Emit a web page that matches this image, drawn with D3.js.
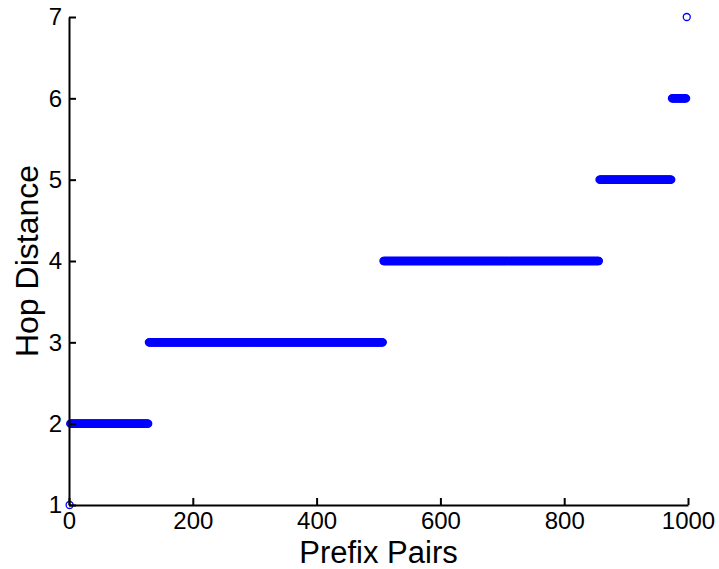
<!DOCTYPE html>
<html>
<head>
<meta charset="utf-8">
<script src="https://cdn.jsdelivr.net/npm/d3@7"></script>
<style>
  html, body { margin: 0; padding: 0; background: #fff; }
  svg { display: block; font-family: "Liberation Sans", Arial, sans-serif; }
</style>
</head>
<body>
<svg id="chart" width="719" height="569"></svg>
<script>
// Hop distance for each prefix pair, sorted: number of pairs at each hop count
const hopLevels = [1, 2, 3, 4, 5, 6, 7];
const pairCounts = [1, 127, 379, 349, 117, 24, 1];

const xTicks = [0, 200, 400, 600, 800, 1000];
const yTicks = [1, 2, 3, 4, 5, 6, 7];

// Expand the counts into one point per prefix pair (index starts at 1)
const points = [];
let idx = 1;
hopLevels.forEach((h, i) => {
  for (let k = 0; k < pairCounts[i]; k++) points.push({ x: idx++, y: h });
});

const svg = d3.select("#chart");
const margin = { top: 17, right: 31, bottom: 64, left: 69 };
const W = 719, H = 569;

const x = d3.scaleLinear().domain([0, 1000]).range([margin.left, W - margin.right]);
const y = d3.scaleLinear().domain([1, 7]).range([H - margin.bottom, margin.top]);

// Points: hollow blue circles
svg.append("g")
  .selectAll("circle")
  .data(points)
  .join("circle")
  .attr("cx", d => x(d.x))
  .attr("cy", d => y(d.y))
  .attr("r", 3.5)
  .attr("fill", "none")
  .attr("stroke", "#0000ff")
  .attr("stroke-width", 1.3);

// Axes with inward ticks
const fmt = d3.format("d");
const xAxis = svg.append("g")
  .attr("transform", `translate(0,${H - margin.bottom})`)
  .call(d3.axisBottom(x).tickValues(xTicks).tickFormat(fmt)
    .tickSizeInner(-7).tickSizeOuter(0).tickPadding(7));

const yAxis = svg.append("g")
  .attr("transform", `translate(${margin.left},0)`)
  .call(d3.axisLeft(y).tickValues(yTicks).tickFormat(fmt)
    .tickSizeInner(-7).tickSizeOuter(0).tickPadding(7));

[xAxis, yAxis].forEach(a => {
  a.select(".domain").attr("stroke", "#000").attr("stroke-width", 2);
  a.selectAll(".tick line").attr("stroke", "#000").attr("stroke-width", 2);
  a.selectAll(".tick text")
    .attr("fill", "#000")
    .style("font-size", "24px")
    .style("font-family", "'Liberation Sans', Arial, sans-serif");
});

// Axis titles
svg.append("text")
  .attr("x", x(500))
  .attr("y", 563)
  .attr("text-anchor", "middle")
  .style("font-size", "31px")
  .attr("fill", "#000")
  .text("Prefix Pairs");

svg.append("text")
  .attr("transform", `translate(38,${y(4)}) rotate(-90)`)
  .attr("text-anchor", "middle")
  .style("font-size", "32px")
  .attr("fill", "#000")
  .text("Hop Distance");
</script>
</body>
</html>
